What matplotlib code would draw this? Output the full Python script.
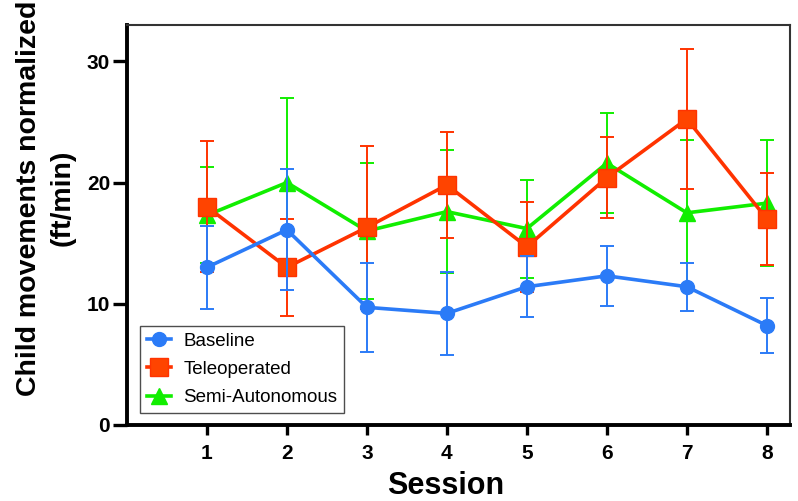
import numpy as np
import matplotlib.pyplot as plt
from matplotlib.lines import Line2D

plt.rcParams['font.family'] = ['Liberation Sans', 'DejaVu Sans']

sessions = [1, 2, 3, 4, 5, 6, 7, 8]

baseline = [13.0, 16.1, 9.7, 9.2, 11.4, 12.3, 11.4, 8.2]
baseline_err = [3.4, 5.0, 3.7, 3.4, 2.5, 2.5, 2.0, 2.3]

teleop = [18.0, 13.0, 16.3, 19.8, 14.7, 20.4, 25.25, 17.0]
teleop_err = [5.4, 4.0, 6.7, 4.4, 3.7, 3.35, 5.75, 3.8]

semi = [17.3, 20.0, 16.0, 17.6, 16.2, 21.6, 17.5, 18.3]
semi_err = [3.95, 7.0, 5.65, 5.05, 4.05, 4.1, 6.05, 5.2]

c_blue = '#2b7bf7'
c_red = '#ff3300'
c_green = '#11ee00'

fig = plt.figure(figsize=(7.98, 5.01), dpi=100)
ax = fig.add_axes([0.159, 0.152, 0.831, 0.798])

ax.errorbar(sessions, semi, yerr=semi_err, color=c_green, lw=2.6, marker='^',
            ms=12, elinewidth=1.4, capsize=5, capthick=1.4, zorder=2)
ax.errorbar(sessions, teleop, yerr=teleop_err, color=c_red, lw=2.6, marker='s',
            ms=13, mfc='#ff4400', elinewidth=1.4, capsize=5, capthick=1.4, zorder=3)
ax.errorbar(sessions, baseline, yerr=baseline_err, color=c_blue, lw=2.6, marker='o',
            ms=10, elinewidth=1.4, capsize=5, capthick=1.4, zorder=4)

ax.set_xlim(0, 8.29)
ax.set_ylim(0, 33.0)
ax.set_xticks(sessions)
ax.set_yticks([0, 10, 20, 30])
ax.tick_params(axis='x', direction='out', length=7, width=2.4, labelsize=15, pad=7)
ax.tick_params(axis='y', direction='out', length=10, width=2.4, labelsize=15, pad=2)
for lab in ax.get_xticklabels() + ax.get_yticklabels():
    lab.set_fontweight('bold')

for s in ['left', 'bottom']:
    ax.spines[s].set_linewidth(2.8)
    ax.spines[s].set_color('black')
for s in ['top', 'right']:
    ax.spines[s].set_linewidth(1.5)
    ax.spines[s].set_color('#333333')

ax.set_xlabel('Session', fontsize=22, fontweight='bold')
ax.xaxis.set_label_coords(0.481, -0.115)
ax.set_ylabel('Child movements normalized\n(ft/min)', fontsize=20.5, fontweight='bold',
              linespacing=1.4, va='center')
ax.yaxis.set_label_coords(-0.122, 0.567)

handles = [
    Line2D([], [], color=c_blue, lw=2.6, marker='o', ms=10),
    Line2D([], [], color=c_red, lw=2.6, marker='s', ms=13, mfc='#ff4400'),
    Line2D([], [], color=c_green, lw=2.6, marker='^', ms=12),
]
labels = ['Baseline', 'Teleoperated', 'Semi-Autonomous']
leg = ax.legend(handles, labels, loc='lower left', bbox_to_anchor=(0.02, 0.03),
                fontsize=13.5, frameon=True, fancybox=False, edgecolor='#222222',
                handlelength=1.3, handletextpad=0.65, borderpad=0.35, labelspacing=0.6,
                borderaxespad=0)
leg.get_frame().set_linewidth(1.0)

fig.savefig('out.png', dpi=100)
